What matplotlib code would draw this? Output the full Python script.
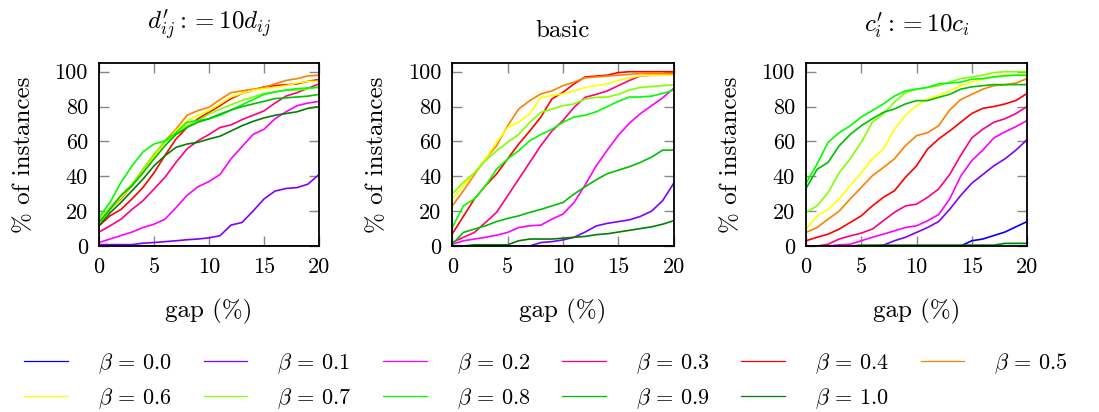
import matplotlib
matplotlib.use("Agg")
import matplotlib.pyplot as plt
from matplotlib.lines import Line2D

plt.rcParams['font.family'] = ['cmr10', 'DejaVu Serif']
plt.rcParams['mathtext.fontset'] = 'cm'
plt.rcParams['axes.formatter.use_mathtext'] = True

# ---------------- data ----------------
gap = list(range(21))
betas = ["0.0", "0.1", "0.2", "0.3", "0.4", "0.5", "0.6", "0.7", "0.8", "0.9", "1.0"]
colors = ["#0000ff", "#8000ff", "#ff00ff", "#ff0080", "#ff0000", "#ff8000",
          "#ffff00", "#80ff00", "#00ff00", "#00bf00", "#008000"]
titles = [r"$d^{\prime}_{ij} := 10d_{ij}$", "basic", r"$c^{\prime}_i := 10c_i$"]

dscaled = [
    [0] * 21,
    [0.8, 0.8, 0.8, 0.8, 1.6, 2, 2.5, 3, 3.6, 4, 4.7, 5.9, 12, 13.5, 20, 27, 31.5, 33, 33.5, 35.5, 41],
    [2, 4, 6, 8, 10.6, 12.5, 15.4, 22, 29, 34, 37, 41, 50, 57, 64, 67, 73, 77, 80.5, 82, 83],
    [8, 11.5, 15.4, 21, 26, 32.7, 39.4, 48, 55.7, 60.4, 64, 68, 69.5, 72.5, 75, 77.5, 82, 86, 88, 90.5, 93],
    [11.6, 17.3, 21, 27, 33.6, 42, 52, 61.4, 68, 73, 76.7, 80.5, 84.6, 87.5, 89.4, 91.3, 92, 92.5, 93, 94.5, 95.5],
    [13.4, 21, 27, 34.6, 44, 52, 60.4, 67, 75, 77.7, 79.6, 84, 88, 89, 90, 91, 93, 95, 96, 97.6, 98],
    [14.5, 21, 28, 34.6, 42, 51, 59.5, 66, 72, 75, 77.7, 81.5, 85.5, 87.5, 89.4, 90.3, 91, 92, 93.5, 94.5, 94.5],
    [15.4, 22, 29, 35.5, 44, 52.8, 59.5, 64, 69, 72, 75.7, 78.6, 81, 83.5, 85.5, 87.5, 88.4, 89.4, 89.4, 90.3, 91.3],
    [16.4, 25, 36.5, 46, 54, 58.5, 60.4, 65, 71, 72, 73, 75, 78, 81, 84, 87, 88.4, 89.4, 90.3, 90.7, 91],
    [13.5, 21, 29, 34.6, 42, 50, 57.5, 64, 68, 71, 73, 75.7, 78, 80, 81.5, 83, 84.6, 85, 85.5, 86, 87],
    [11.6, 19, 25, 31.7, 38.4, 46, 51.8, 56.6, 58.5, 59.5, 61.4, 63, 66, 69, 71.5, 73.5, 75, 76, 77, 79, 80],
]

basic = [
    [0] * 21,
    [0, 0, 0, 0, 0, 0, 0, 0, 2, 2.5, 3.5, 5, 8, 11.5, 13, 14, 15, 17, 20, 26, 36],
    [1, 3, 4, 5, 6.2, 7.8, 10.6, 11.6, 12, 15.4, 18.3, 25, 35, 46, 55, 63.5, 70.5, 76, 80.5, 85, 90.5],
    [2, 5, 7.8, 13.5, 19.3, 28.8, 38.4, 48, 57.6, 66, 72, 79.6, 85.3, 87, 89, 92, 95, 97.6, 98, 98, 98.5],
    [7, 17, 27, 34.6, 41.3, 50, 58.5, 66, 74, 84.4, 88.2, 93, 97, 97.5, 98, 99.5, 100, 100, 100, 100, 100],
    [23, 31.7, 41, 50, 57.5, 69, 78.6, 83.4, 87.3, 89, 92, 94, 96.5, 97, 97.5, 98, 98.5, 99, 99, 99, 99],
    [27, 34.6, 42, 50, 59.5, 68, 71, 75.8, 85.3, 86.3, 87.3, 89, 91, 92, 93, 95, 96.5, 97.6, 98, 98, 98],
    [30, 36.5, 42, 49, 54.7, 59.5, 64, 71, 76.7, 78.6, 80.5, 81.5, 84.4, 85.3, 85.5, 87, 89.5, 91, 91.5, 92, 92.5],
    [10.6, 23, 27, 34.6, 44, 50, 54.7, 60.4, 64, 67, 71, 74, 75, 77, 80, 83, 85.5, 85.5, 86, 87.5, 89.5],
    [1, 7.8, 9.7, 11.6, 14, 15.8, 17.3, 19.3, 21, 23, 25, 29.8, 34, 38, 41.5, 43.5, 45.5, 48, 51, 55, 55],
    [0, 0, 0.7, 0.7, 0.7, 0.7, 3, 4, 4, 4, 4.5, 5, 5.5, 6.5, 7, 8, 9, 10, 11, 12.5, 14.5],
]

cscaled = [
    [0] * 15 + [3, 4, 6, 8, 11, 14],
    [0, 0, 0, 0, 0, 0, 0, 0.5, 3, 5, 7.8, 10.6, 14, 21, 29, 36, 41, 46, 50, 55, 61],
    [0, 0, 0, 0.7, 1, 3, 5, 6.8, 8.7, 10.6, 11.6, 14.5, 18, 27, 40, 49, 55, 62, 65.5, 68.5, 72],
    [0, 0, 1, 4, 5.8, 7.4, 9.7, 14.5, 19.3, 23, 24, 27.9, 32.7, 41, 52, 62, 67, 71, 73, 76, 80],
    [3, 5, 6.8, 9.7, 13.5, 17.3, 23, 27.9, 31.7, 39.4, 46, 55.6, 61.4, 66, 71, 76, 79, 80, 81.5, 83.5, 87.5],
    [7.8, 10.6, 15.4, 20, 27, 33.6, 40.3, 45, 50, 57.6, 63.3, 65, 69, 78, 84, 87, 90, 92, 92.5, 93.5, 96],
    [9.7, 17.3, 21, 27, 34.6, 42, 50, 55.7, 67, 75, 80.5, 84.4, 86.3, 89, 92, 94, 95.7, 97, 98, 98, 99],
    [19.3, 23, 30.7, 42, 50, 59.5, 71, 75.8, 82.5, 88, 90, 91, 92, 94, 96, 97, 98, 99.5, 100, 100, 100],
    [36, 47, 59.5, 65, 69, 74, 77.7, 81.5, 86, 89, 90, 91, 93, 93.5, 94, 95.7, 96, 97, 97.6, 98, 98],
    [33, 44, 48, 57.5, 64, 69, 73, 76.7, 78.6, 81.5, 83.4, 83.4, 85.3, 87, 90, 91.3, 92, 92.6, 92.6, 92.6, 92.6],
    [0, 0, 0, 0, 0, 0.5, 0.5, 0.5, 0.5, 0.5, 0.5, 0.5, 0.5, 0.5, 0.5, 0.5, 0.5, 0.5, 1.5, 1.5, 1.5],
]

panels = [dscaled, basic, cscaled]
xticks = [0, 5, 10, 15, 20]
yticks = [0, 20, 40, 60, 80, 100]

# ---------------- figure ----------------
W, H = 1099, 412
fig = plt.figure(figsize=(W / 100, H / 100), dpi=100)

lefts = [99, 452.3, 806]
widths = [220, 221.4, 221]
top_px, bot_px = 63, 246
title_pads = [24, 19, 22]

for k, (data, title) in enumerate(zip(panels, titles)):
    ax = fig.add_axes([lefts[k] / W, (H - bot_px) / H, widths[k] / W, (bot_px - top_px) / H])
    for series, c in zip(data, colors):
        ax.plot(gap, series, color=c, lw=1.2, clip_on=True)
    ax.set_xlim(0, 20)
    ax.set_ylim(0, 105)
    ax.set_xticks(xticks)
    ax.set_yticks(yticks)
    ax.set_xticklabels([str(t) for t in xticks])
    ax.set_yticklabels([str(t) for t in yticks])
    ax.tick_params(direction='in', length=7, width=1.0, color='#888888',
                   top=True, right=True, labelsize=16, pad=8, labelcolor='black')
    for s in ax.spines.values():
        s.set_linewidth(1.3)
        s.set_zorder(5)
    ax.set_title(title, fontsize=18, pad=title_pads[k])
    ax.set_xlabel("gap (%)", fontsize=18, labelpad=16)
    ax.set_ylabel("% of instances", fontsize=18, labelpad=14)

# legend (row-major order across 6 columns)
handles = [Line2D([], [], color=c, lw=0.9) for c in colors]
labels = [r"$\beta\,=\,%s$" % b for b in betas]
order = [0, 6, 1, 7, 2, 8, 3, 9, 4, 10, 5]
fig.legend([handles[i] for i in order], [labels[i] for i in order],
           loc='center', bbox_to_anchor=(546 / W, (H - 381) / H), ncol=6,
           frameon=False, fontsize=16, handlelength=1.95, handletextpad=1.35,
           columnspacing=1.45, labelspacing=0.45)

fig.savefig("out.png", dpi=100)
